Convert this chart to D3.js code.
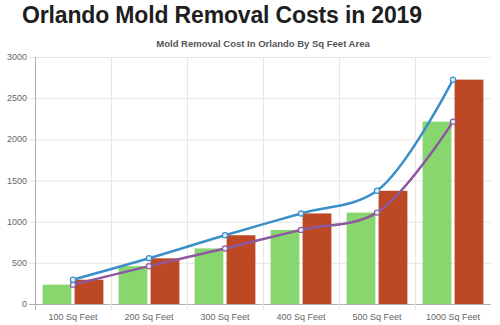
<!DOCTYPE html>
<html>
<head>
<meta charset="utf-8">
<script src="https://cdn.jsdelivr.net/npm/d3@7"></script>
<style>
  body { margin: 0; background: #fff; }
  svg { display: block; font-family: "Liberation Sans", Arial, sans-serif; }
</style>
</head>
<body>
<div id="graph"></div>
<script>
// categories and cost values
var categories = ["100 Sq Feet", "200 Sq Feet", "300 Sq Feet", "400 Sq Feet", "500 Sq Feet", "1000 Sq Feet"];
var lowCost = [235, 460, 675, 900, 1110, 2215];
var highCost = [295, 555, 835, 1100, 1375, 2725];
var yTicks = [0, 500, 1000, 1500, 2000, 2500, 3000];

var W = 500, H = 325;
var margin = {top: 57, right: 9, bottom: 21, left: 35},
    width = W - margin.left - margin.right,
    height = H - margin.top - margin.bottom;

var svg = d3.select("#graph").append("svg")
    .attr("width", W)
    .attr("height", H);

// page heading
svg.append("text")
    .attr("x", 22)
    .attr("y", 23)
    .attr("font-size", 23)
    .attr("font-weight", "bold")
    .attr("fill", "#1e1e1e")
    .attr("textLength", 400)
    .text("Orlando Mold Removal Costs in 2019");

// chart title
svg.append("text")
    .attr("x", margin.left + width / 2)
    .attr("y", 47)
    .attr("text-anchor", "middle")
    .attr("font-size", 9.5)
    .attr("font-weight", "bold")
    .attr("fill", "#555")
    .text("Mold Removal Cost In Orlando By Sq Feet Area");

var g = svg.append("g")
    .attr("transform", "translate(" + margin.left + "," + margin.top + ")");

// scales
var x = d3.scaleBand().domain(categories).range([0, width]);
var inner = d3.scaleBand().domain(["low", "high"]).range([0, x.bandwidth() * 0.8]).paddingInner(0.1);
var y = d3.scaleLinear().domain([0, 3000]).range([height, 0]);

// horizontal grid
g.append("g")
    .selectAll("line")
    .data(yTicks)
    .join("line")
    .attr("x1", -6)
    .attr("x2", width)
    .attr("y1", d => y(d) + 0.5)
    .attr("y2", d => y(d) + 0.5)
    .attr("stroke", d => d === 0 ? "#b0b0b0" : "#e6e6e6");

// vertical grid at category boundaries
g.append("g")
    .selectAll("line")
    .data(categories.slice(1))
    .join("line")
    .attr("x1", d => Math.round(x(d)) + 0.5)
    .attr("x2", d => Math.round(x(d)) + 0.5)
    .attr("y1", 0)
    .attr("y2", height + 6)
    .attr("stroke", "#e6e6e6");

// y axis line
g.append("line")
    .attr("x1", 0.5).attr("x2", 0.5)
    .attr("y1", 0).attr("y2", height + 6)
    .attr("stroke", "#b0b0b0");

// y tick labels
g.append("g")
    .selectAll("text")
    .data(yTicks)
    .join("text")
    .attr("x", -8)
    .attr("y", d => y(d) + 3)
    .attr("text-anchor", "end")
    .attr("font-size", 9)
    .attr("fill", "#666")
    .text(d => d);

// x labels
g.append("g")
    .selectAll("text")
    .data(categories)
    .join("text")
    .attr("x", d => x(d) + x.bandwidth() / 2)
    .attr("y", height + 16)
    .attr("text-anchor", "middle")
    .attr("font-size", 9)
    .attr("fill", "#666")
    .text(d => d);

// bars
var off = x.bandwidth() * 0.1;
var barW = inner.bandwidth();
var series = [
    {key: "low", values: lowCost, color: "#87d76e"},
    {key: "high", values: highCost, color: "#bc4824"}
];
series.forEach(function(s) {
    g.append("g")
        .selectAll("rect")
        .data(s.values)
        .join("rect")
        .attr("x", (d, i) => x(categories[i]) + off + inner(s.key))
        .attr("y", d => y(d))
        .attr("width", barW)
        .attr("height", d => height - y(d))
        .attr("fill", s.color);
});

// trend lines through the bar values
var line = d3.line()
    .x((d, i) => x(categories[i]) + x.bandwidth() / 2)
    .y(d => y(d))
    .curve(d3.curveCatmullRom.alpha(0.5));

var lines = [
    {values: lowCost, color: "#8d58a0"},
    {values: highCost, color: "#3a8fc8"}
];
lines.forEach(function(l) {
    g.append("path")
        .datum(l.values)
        .attr("d", line)
        .attr("fill", "none")
        .attr("stroke", l.color)
        .attr("stroke-width", 2.5);
    g.append("g")
        .selectAll("circle")
        .data(l.values)
        .join("circle")
        .attr("cx", (d, i) => x(categories[i]) + x.bandwidth() / 2)
        .attr("cy", d => y(d))
        .attr("r", 2.6)
        .attr("fill", "#e8eef8")
        .attr("stroke", l.color)
        .attr("stroke-width", 1.2);
});
</script>
</body>
</html>
